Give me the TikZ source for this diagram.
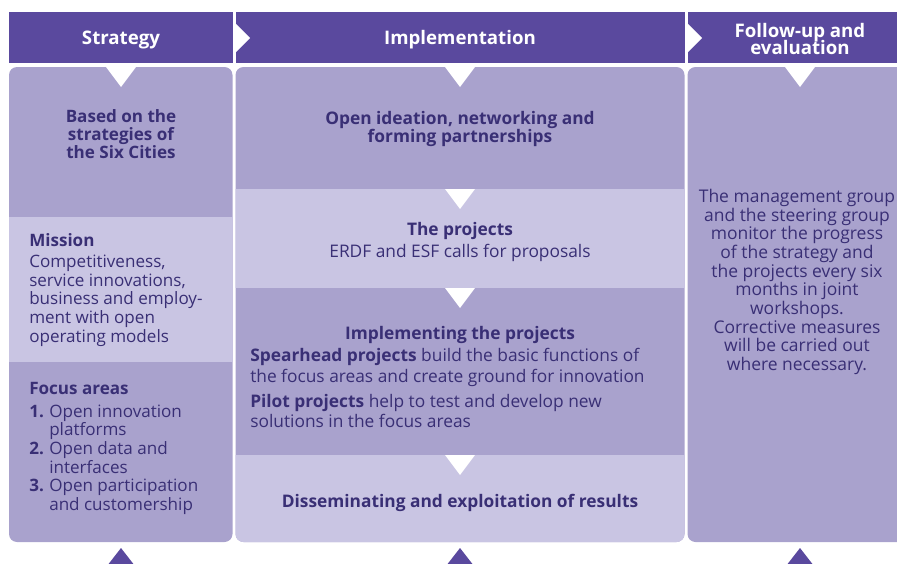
\documentclass[tikz,border=0pt]{standalone}
\usepackage{fontspec}
\setmainfont{Open Sans}
\usepackage{tikz}
\usetikzlibrary{positioning, calc}
\definecolor{headpurple}{RGB}{90, 73, 158}
\definecolor{darklilac}{RGB}{169, 162, 205}
\definecolor{lightlilac}{RGB}{201, 197, 227}
\definecolor{inkblue}{RGB}{57, 47, 117}
\newcommand{\itemnum}[1]{\makebox[15pt][l]{\bfseries #1}}
\newcommand{\tightlines}{\lineskiplimit=-20pt\relax}

\begin{document}
\begin{tikzpicture}[
    x=0.75pt, y=-0.75pt,
    headtxt/.style={text=white, inner sep=0pt, align=center, font=\fontsize{14}{12.9}\selectfont\tightlines\bfseries},
    lefttitle/.style={text=inkblue, inner sep=0pt, align=center, font=\fontsize{12.8}{13.8}\selectfont\tightlines\bfseries},
    leftbody/.style={text=inkblue, inner sep=0pt, align=left, anchor=north west, font=\fontsize{12.8}{14}\selectfont\tightlines},
    midtitle/.style={text=inkblue, inner sep=0pt, align=center, font=\fontsize{13}{13.8}\selectfont\tightlines\bfseries},
    midbody/.style={text=inkblue, inner sep=0pt, align=left, anchor=north west, font=\fontsize{13}{15.6}\selectfont\tightlines},
    notchmark/.style={fill=white},
    uppointer/.style={fill=headpurple}
]
\useasboundingbox (0,0) rectangle (897,564);

% Header band
\fill[headpurple] (9,12) rectangle (232.5,63);
\fill[headpurple] (235.5,12) rectangle (684.5,63);
\fill[headpurple] (687.5,12) rectangle (905,63);
\fill[white] (235,23) -- (250,38) -- (235,53) -- cycle;
\fill[white] (687,23) -- (702,38) -- (687,53) -- cycle;

% Columns
\begin{scope}
\clip[rounded corners=6] (9,67) rectangle (232.5,542) (235.5,67) rectangle (684.5,542) (687.5,67) rectangle (915,542);
\fill[darklilac] (0,60) rectangle (905,550);
\fill[lightlilac] (0,217) rectangle (234,362);
\fill[lightlilac] (234,189) rectangle (686,288);
\fill[lightlilac] (234,455) rectangle (686,550);
\end{scope}

% Notches and pointers
\foreach \x/\y in {121/67, 460/67, 800/67, 460/189, 460/288, 460/455}
  \fill[notchmark] (\x-15,\y) -- (\x+15,\y) -- (\x,\y+20) -- cycle;
\foreach \x in {121, 460, 800}
  \fill[uppointer] (\x,548) -- (\x+14,566) -- (\x-14,566) -- cycle;

% Headers
\node[headtxt] (hstrat) at (121,40) {Strategy};
\node[headtxt] (himpl) at (460,40) {Implementation};
\node[headtxt] (hfollow) at (800,39) {Follow-up and\\evaluation};

% Strategy column
\node[lefttitle] (based) at (121,134) {Based on the\\strategies of\\the Six Cities};
\node[leftbody] (mission) at (29,233) {\textbf{Mission}\\[2pt]
  Competitiveness,\\service innovations,\\business and employ-\\ment with open\\operating models};
\node[leftbody] (focus) at (29,382) {\textbf{Focus areas}\\[3pt]
  \itemnum{1.}Open innovation\\\hspace*{15pt}platforms\\
  \itemnum{2.}Open data and\\\hspace*{15pt}interfaces\\
  \itemnum{3.}Open participation\\\hspace*{15pt}and customership};

% Implementation column
\node[midtitle] (ideation) at (460,129) {Open ideation, networking and\\forming partnerships};
\node[midtitle] (projects) at (460,242) {The projects\\[2pt]\mdseries ERDF and ESF calls for proposals};
\node[midtitle] (implproj) at (460,335) {Implementing the projects};
\node[midbody] (spear) at (250,348) {\textbf{Spearhead projects} build the basic functions of\\
  the focus areas and create ground for innovation\\[3pt]
  \textbf{Pilot projects} help to test and develop new\\solutions in the focus areas};
\node[midtitle] (dissem) at (460,503) {Disseminating and exploitation of results};

% Follow-up column
\node[leftbody, anchor=center, align=center, font=\fontsize{13.1}{14}\selectfont\tightlines] (monitor) at (797,282) {The management group\\and the steering group\\monitor the progress\\of the strategy and\\the projects every six\\months in joint\\workshops.\\Corrective measures\\will be carried out\\where necessary.};

\end{tikzpicture}
\end{document}
